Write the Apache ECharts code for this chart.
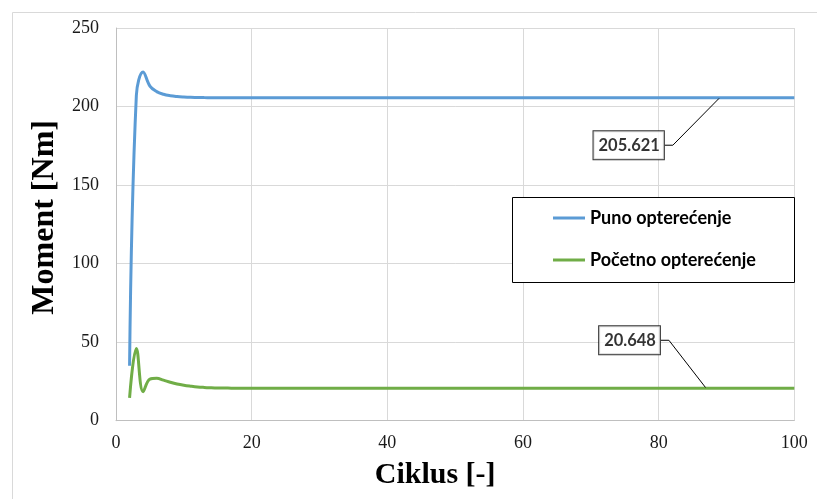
<!DOCTYPE html>
<html>
<head>
<meta charset="utf-8">
<script src="https://cdn.jsdelivr.net/npm/echarts@6/dist/echarts.min.js"></script>
<style>
html,body{margin:0;padding:0;background:#fff;}
#chart{width:817px;height:499px;}
</style>
</head>
<body>
<div id="chart"></div>
<script>
// ---- data ----
var cycles = [2,3,4,5,6,7,8,9,10,11,12,13,14,15,16,17,18,19,20,30,40,50,60,70,80,90,100];
var punoOpterecenje = [35,207,222,213,209.5,207.8,206.9,206.4,206.1,205.9,205.8,205.7,205.65,205.621,205.621,205.621,205.621,205.621,205.621,205.621,205.621,205.621,205.621,205.621,205.621,205.621,205.621];
var pocetnoOpterecenje = [14.5,46,18.5,26.5,27,25.8,24.5,23.4,22.6,22,21.5,21.2,21,20.85,20.78,20.72,20.68,20.66,20.648,20.648,20.648,20.648,20.648,20.648,20.648,20.648,20.648];
var seriesNames = ['Puno opterećenje', 'Početno opterećenje'];
var annotCycles = [89, 87];
var annotValues = [205.621, 20.648];
var xTicks = [0, 20, 40, 60, 80, 100];
var yTicks = [0, 50, 100, 150, 200, 250];

function pairs(xs, ys) { return xs.map(function (x, i) { return [x, ys[i]]; }); }

var chart = echarts.init(document.getElementById('chart'), null, {renderer: 'canvas'});
var serif = '"Liberation Serif", "Times New Roman", serif';
var labelFont = 'Lato, "Open Sans", sans-serif';

var option = {
  animation: false,
  backgroundColor: '#ffffff',
  graphic: [
    {type: 'rect', left: 10, top: 10, shape: {width: 830, height: 520}, style: {fill: 'none', stroke: '#d9d9d9', lineWidth: 1}, silent: true, z: -10},
    {type: 'rect', left: 512, top: 197, shape: {width: 282, height: 85}, style: {fill: '#ffffff', stroke: '#000000', lineWidth: 1}, z: 4}
  ],
  grid: {left: 116, right: 22.7, top: 28, bottom: 78.3, containLabel: false},
  xAxis: {
    type: 'value', min: xTicks[0], max: xTicks[xTicks.length - 1], interval: 20,
    name: 'Ciklus [-]', nameLocation: 'middle', nameGap: 40,
    nameTextStyle: {fontFamily: serif, fontSize: 30, fontWeight: 'bold', color: '#000', padding: [0, 40, 0, 0]},
    axisLine: {show: true, lineStyle: {color: '#bfbfbf', width: 1}},
    axisTick: {show: false},
    axisLabel: {fontFamily: serif, fontSize: 18, color: '#1a1a1a', margin: 14},
    splitLine: {show: true, lineStyle: {color: '#d9d9d9', width: 1}}
  },
  yAxis: {
    type: 'value', min: yTicks[0], max: yTicks[yTicks.length - 1], interval: 50,
    name: 'Moment [Nm]', nameLocation: 'middle', nameGap: 46, nameRotate: 90,
    nameTextStyle: {fontFamily: serif, fontSize: 32, fontWeight: 'bold', color: '#000', padding: [0, 0, 0, 14]},
    axisLine: {show: true, lineStyle: {color: '#bfbfbf', width: 1}},
    axisTick: {show: false},
    axisLabel: {fontFamily: serif, fontSize: 18, color: '#1a1a1a', margin: 17},
    splitLine: {show: true, lineStyle: {color: '#d9d9d9', width: 1}}
  },
  legend: {
    data: seriesNames,
    orient: 'vertical', left: 553, top: 209, itemGap: 24,
    icon: 'rect', itemWidth: 32, itemHeight: 3, padding: 0, z: 5,
    textStyle: {fontFamily: labelFont, fontSize: 18, fontWeight: 'bold', color: '#000'}
  },
  series: [
    {
      name: seriesNames[0], type: 'line', data: pairs(cycles, punoOpterecenje),
      smooth: 0.4, showSymbol: false, symbol: 'none',
      lineStyle: {color: '#5B9BD5', width: 3}, itemStyle: {color: '#5B9BD5'}, z: 3
    },
    {
      name: seriesNames[1], type: 'line', data: pairs(cycles, pocetnoOpterecenje),
      smooth: 0.4, showSymbol: false, symbol: 'none',
      lineStyle: {color: '#70AD47', width: 3}, itemStyle: {color: '#70AD47'}, z: 3
    },
    {
      name: 'annot', type: 'scatter', data: pairs(annotCycles, annotValues),
      symbolSize: 2, itemStyle: {color: 'rgba(0,0,0,0)'}, z: 6,
      label: {
        show: true, position: 'inside',
        formatter: function (p) { return String(p.value[1]); },
        fontFamily: labelFont, fontSize: 16.5, fontWeight: 'bold', color: '#000',
        backgroundColor: '#fff', borderColor: '#000', borderWidth: 1, padding: [6, 4, 5, 5]
      },
      labelLine: {show: true, length2: 8, lineStyle: {color: '#000', width: 1}},
      labelLayout: function (params) {
        return params.dataIndex === 0 ? {dx: -91, dy: 47.5} : {dx: -76.6, dy: -48};
      }
    }
  ]
};
chart.setOption(option);
</script>
</body>
</html>
